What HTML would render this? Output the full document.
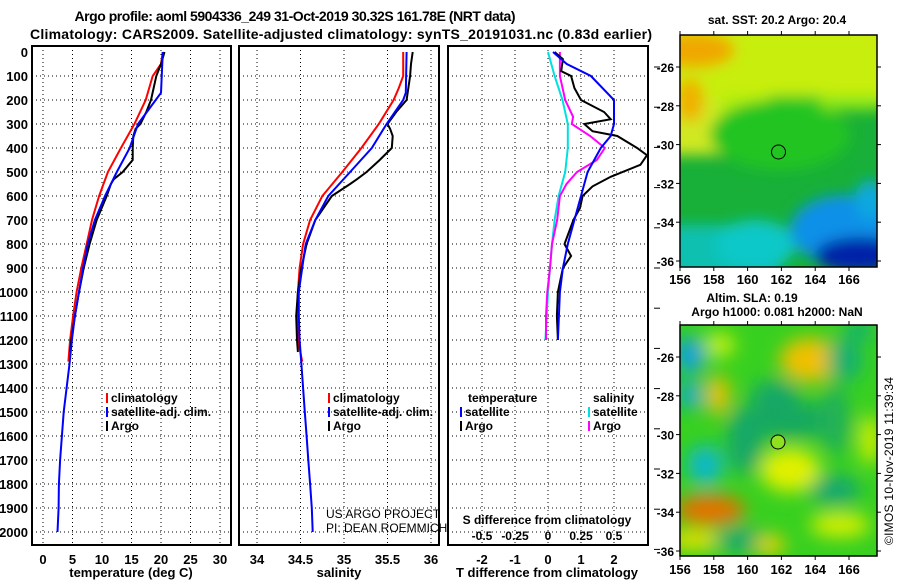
<!DOCTYPE html>
<html><head><meta charset="utf-8"><style>
body{margin:0;background:#fff}
svg{display:block;font-family:"Liberation Sans",sans-serif;font-weight:bold}
</style></head><body>
<svg id="fig" width="900" height="580" viewBox="0 0 900 580" xmlns="http://www.w3.org/2000/svg">
<defs>
<filter id="bl1" x="-20%" y="-20%" width="140%" height="140%"><feGaussianBlur stdDeviation="7"/></filter>
<filter id="bl2" x="-20%" y="-20%" width="140%" height="140%"><feGaussianBlur stdDeviation="9"/></filter>
<clipPath id="cm1"><rect x="680" y="35" width="197" height="232"/></clipPath>
<clipPath id="cm2"><rect x="680" y="325" width="197" height="231"/></clipPath>
<clipPath id="cp1"><rect x="32" y="46" width="199" height="499"/></clipPath>
<clipPath id="cp2"><rect x="239" y="46" width="200" height="499"/></clipPath>
<clipPath id="cp3"><rect x="448" y="46" width="200" height="499"/></clipPath>
</defs>
<text x="295" y="21" text-anchor="middle" font-size="14" textLength="441">Argo profile: aoml 5904336_249 31-Oct-2019 30.32S 161.78E (NRT data)</text>
<text x="341" y="39" text-anchor="middle" font-size="14" textLength="622">Climatology: CARS2009. Satellite-adjusted climatology: synTS_20191031.nc (0.83d earlier)</text>

<g clip-path="url(#cm1)">
<rect x="680" y="35" width="197" height="232" fill="#18b038"/>
<g filter="url(#bl1)">
<rect x="660" y="20" width="240" height="85" fill="#c8ee10"/>
<rect x="660" y="100" width="70" height="55" fill="#d0e820"/>
<rect x="720" y="95" width="50" height="25" fill="#b0ee10"/>
<rect x="770" y="95" width="50" height="20" fill="#40d020"/>
<rect x="820" y="95" width="60" height="15" fill="#90e818"/>
<ellipse cx="695" cy="50" rx="40" ry="18" fill="#f0a800"/>
<ellipse cx="690" cy="100" rx="14" ry="22" fill="#f0b000"/>
<ellipse cx="780" cy="135" rx="70" ry="35" fill="#20c420"/>
<rect x="660" y="225" width="120" height="60" fill="#10c0b0"/>
<ellipse cx="755" cy="245" rx="40" ry="25" fill="#10c8c8"/>
<ellipse cx="845" cy="230" rx="55" ry="35" fill="#1090e8"/>
<ellipse cx="860" cy="255" rx="45" ry="18" fill="#0020a8"/>
<ellipse cx="870" cy="200" rx="15" ry="20" fill="#10a8e0"/>
</g>
</g>
<rect x="680" y="35" width="197" height="232" fill="none" stroke="#000" stroke-width="1.5"/>
<circle cx="778.5" cy="152" r="7" fill="none" stroke="#000" stroke-width="1"/>

<g clip-path="url(#cm2)">
<rect x="680" y="325" width="197" height="231" fill="#38d020"/>
<g filter="url(#bl2)">
<ellipse cx="690" cy="355" rx="15" ry="18" fill="#10a0e0"/>
<ellipse cx="690" cy="395" rx="12" ry="14" fill="#10a8d0"/>
<ellipse cx="705" cy="465" rx="18" ry="20" fill="#10b8c8"/>
<ellipse cx="810" cy="360" rx="30" ry="22" fill="#f0c000"/>
<ellipse cx="790" cy="420" rx="50" ry="18" fill="#18a860"/>
<ellipse cx="845" cy="360" rx="18" ry="22" fill="#18b070"/>
<ellipse cx="860" cy="330" rx="15" ry="10" fill="#18b070"/>
<ellipse cx="745" cy="440" rx="18" ry="35" fill="#18a868"/>
<ellipse cx="775" cy="395" rx="25" ry="15" fill="#18a868"/>
<ellipse cx="835" cy="420" rx="15" ry="35" fill="#20b058"/>
<ellipse cx="710" cy="510" rx="35" ry="15" fill="#e87000"/>
<ellipse cx="695" cy="540" rx="30" ry="10" fill="#e8e000"/>
<ellipse cx="718" cy="395" rx="12" ry="20" fill="#e8c000"/>
<ellipse cx="790" cy="470" rx="30" ry="22" fill="#e0f000"/>
<ellipse cx="835" cy="490" rx="25" ry="15" fill="#18a870"/>
<ellipse cx="840" cy="525" rx="30" ry="12" fill="#d8f000"/>
<ellipse cx="740" cy="540" rx="25" ry="12" fill="#18a870"/>
<ellipse cx="770" cy="545" rx="15" ry="10" fill="#f0d000"/>
<ellipse cx="870" cy="440" rx="10" ry="25" fill="#d8f000"/>
<ellipse cx="720" cy="345" rx="15" ry="12" fill="#c8f010"/>
</g>
</g>
<rect x="680" y="325" width="197" height="231" fill="none" stroke="#000" stroke-width="1.5"/>
<circle cx="778" cy="442" r="7" fill="#8ee020" stroke="#000" stroke-width="1"/>

<text x="777" y="24" text-anchor="middle" font-size="12">sat. SST: 20.2 Argo: 20.4</text>
<text x="752" y="302" text-anchor="middle" font-size="12">Altim. SLA: 0.19</text>
<text x="777" y="316" text-anchor="middle" font-size="12">Argo h1000: 0.081 h2000: NaN</text>
<text transform="translate(893,545) rotate(-90)" font-size="12" font-weight="normal" textLength="168">©IMOS 10-Nov-2019 11:39:34</text>
<g id="dyn"></g>
</svg>
<script>
// ---- data ----
const depthTicks = [0,100,200,300,400,500,600,700,800,900,1000,1100,1200,1300,1400,1500,1600,1700,1800,1900,2000];
const tempTicks = [0,5,10,15,20,25,30];
const salTicks = [34,34.5,35,35.5,36];
const tdiffTicks = [-2,-1,0,1,2];
const sdiffTicks = ["-0.5","-0.25","0","0.25","0.5"];
const sdiffVals = [-0.5,-0.25,0,0.25,0.5];
const lonTicks = [156,158,160,162,164,166];
const latTicks = [-26,-28,-30,-32,-34,-36];

const climDepth = [0,50,100,150,200,300,400,500,600,700,800,900,1000,1100,1200,1290];
const climTemp  = [20.3,20.0,18.6,18.0,17.4,15.5,13.2,11.0,9.5,8.3,7.4,6.5,5.7,5.1,4.6,4.3];
const climSal   = [35.68,35.68,35.68,35.63,35.57,35.40,35.2,34.98,34.75,34.61,34.53,34.49,34.47,34.46,34.47,34.52];

const satDepth = [0,170,200,300,400,500,600,700,800,900,1000,1100,1200,1300,1400,1500,1600,1700,1800,1900,2000];
const satTemp  = [20.3,20.0,19.1,16.1,14.7,12.5,10.5,8.8,7.6,6.8,6.1,5.4,4.9,4.5,4.0,3.5,3.2,2.9,2.7,2.65,2.45];
const satSal   = [35.72,35.71,35.68,35.49,35.32,35.07,34.82,34.67,34.56,34.52,34.48,34.48,34.49,34.51,34.53,34.55,34.57,34.59,34.61,34.63,34.64];

const argoDepth = [0,50,100,200,250,300,320,350,400,450,500,530,550,600,700,800,900,1000,1100,1200,1250];
const argoTemp  = [20.6,20.0,19.2,18.3,17.5,16.5,15.7,15.3,15.2,15.2,13.5,12.0,11.5,10.8,9.1,7.9,6.9,6.1,5.4,4.8,4.6];
const argoSal   = [35.79,35.77,35.76,35.72,35.60,35.50,35.53,35.56,35.55,35.41,35.26,35.15,35.07,34.86,34.67,34.57,34.51,34.47,34.45,34.46,34.47];

const tdSatDepth = [0,50,100,200,300,350,400,500,600,700,800,900,1000,1100,1200];
const tdSat      = [0.15,0.57,1.3,2.0,2.0,1.9,1.6,1.2,1.0,0.8,0.6,0.45,0.36,0.33,0.3];
const tdArgoDepth = [0,30,80,100,150,200,250,280,300,330,350,400,430,470,520,560,600,650,700,800,850,900,1000,1100,1200];
const tdArgo      = [0.2,0.45,0.4,0.7,0.8,1.0,1.7,1.9,1.1,1.35,2.1,2.7,3.0,2.8,1.9,1.35,1.05,0.97,0.77,0.5,0.7,0.45,0.3,0.27,0.3];
const sdDepth = [0,100,200,300,400,500,600,700,800,900,1000,1100,1200];
const sdSat   = [0.0,0.05,0.11,0.15,0.15,0.13,0.08,0.05,0.03,0.015,0.0,-0.01,-0.02];
const sdArgoDepth = [0,100,200,270,300,350,400,450,500,550,600,700,800,900,1000,1100,1200];
const sdArgo      = [0.09,0.09,0.13,0.19,0.18,0.32,0.43,0.37,0.22,0.14,0.09,0.07,0.03,0.015,-0.005,-0.015,-0.015];

// ---- scales ----
const yD = d => 52 + d*0.24;
const xT = t => 43 + t*5.9;
const xS = s => 257 + (s-34)*87;
const xTd = t => 548 + t*33;
const xSd = s => 548 + s*132;
const xLon = l => 680 + (l-156)*16.9;
const yLat1 = l => 67 + (-26-l)*19.4;
const yLat2 = l => 357 + (-26-l)*19.4;

const NS="http://www.w3.org/2000/svg";
const root=document.getElementById('dyn');
function mk(tag,attrs,parent){const e=document.createElementNS(NS,tag);for(const k in attrs)e.setAttribute(k,attrs[k]);(parent||root).appendChild(e);return e;}

function panel(x0,x1,name){
  const g=mk('g',{});
  
  
  depthTicks.forEach(d=>{ if(d>0){const l=mk('line',{x1:x0,x2:x1,y1:yD(d),y2:yD(d),stroke:'#000','stroke-width':1,'stroke-dasharray':'1,3'},g);
    
    }});
  return g;
}
function frame(x0,x1,name){
  const r=mk('rect',{x:x0,y:46,width:x1-x0,height:499,fill:'none',stroke:'#000','stroke-width':2});
  
  
}
function line(xs,ds,xf,color,name,clip,w){
  const pts=xs.map((v,i)=>xf(v).toFixed(1)+','+yD(ds[i]).toFixed(1)).join(' ');
  const p=mk('polyline',{points:pts,fill:'none',stroke:color,'stroke-width':w||2,'clip-path':'url(#'+clip+')'});
  
  
}
function txt(x,y,s,anchor,size,name,weight){
  const t=mk('text',{x:x,y:y,'text-anchor':anchor,'font-size':size||13});
  if(weight)t.setAttribute('font-weight',weight);
  t.textContent=s;
  
  
  return t;
}
function vgrid(g,x){const l=mk('line',{x1:x,x2:x,y1:46,y2:545,stroke:'#000','stroke-width':1,'stroke-dasharray':'1,3'},g);
  
  }

// panel 1
const g1=panel(32,231,'temperature-panel');
tempTicks.forEach(t=>{vgrid(g1,xT(t)); txt(xT(t),564,String(t),'middle',13,'temp-tick-label');});
depthTicks.forEach(d=>txt(28,yD(d)+5,String(d),'end',13,'depth-tick-label'));
line(climTemp,climDepth,xT,'#ff0000','temp-climatology-line','cp1');
line(argoTemp,argoDepth,xT,'#000000','temp-argo-line','cp1');
line(satTemp,satDepth,xT,'#0000ff','temp-satellite-line','cp1');
frame(32,231,'temperature-panel-frame');
txt(131,577,'temperature (deg C)','middle',13,'temperature-axis-title');
// panel 2
const g2=panel(239,439,'salinity-panel');
salTicks.forEach(s=>{vgrid(g2,xS(s)); txt(xS(s),564,String(s),'middle',13,'salinity-tick-label');});
line(climSal,climDepth,xS,'#ff0000','sal-climatology-line','cp2');
line(argoSal,argoDepth,xS,'#000000','sal-argo-line','cp2');
line(satSal,satDepth,xS,'#0000ff','sal-satellite-line','cp2');
frame(239,439,'salinity-panel-frame');
txt(339,577,'salinity','middle',13,'salinity-axis-title');
txt(326,518,'US ARGO PROJECT','start',12,'credit-line-1','normal');
txt(326,532,'PI: DEAN ROEMMICH','start',12,'credit-line-2','normal');
function legend(x){
  const items=[['#ff0000','climatology'],['#0000ff','satellite-adj. clim.'],['#000','Argo']];
  items.forEach((it,i)=>{const y=402+i*14;
    const r=mk('rect',{x:x,y:y-9,width:2,height:10,fill:it[0]});
    
    
    txt(x+5,y,it[1],'start',12,'legend-entry');});
}
legend(106); legend(328);
// panel 3
const g3=panel(448,648,'difference-panel');
tdiffTicks.forEach(t=>{vgrid(g3,xTd(t)); txt(xTd(t),564,String(t),'middle',13,'tdiff-tick-label');});
sdiffVals.forEach((s,i)=>txt(xSd(s),540,sdiffTicks[i],'middle',12,'sdiff-tick-label'));
line(sdSat,sdDepth,xSd,'#00e0e0','sdiff-satellite-line','cp3');
line(sdArgo,sdArgoDepth,xSd,'#ff00ff','sdiff-argo-line','cp3');
line(tdArgo,tdArgoDepth,xTd,'#000000','tdiff-argo-line','cp3');
line(tdSat,tdSatDepth,xTd,'#0000ff','tdiff-satellite-line','cp3');
frame(448,648,'difference-panel-frame');
txt(547,524,'S difference from climatology','middle',12,'sdiff-axis-title');
txt(547,577,'T difference from climatology','middle',13,'tdiff-axis-title');
txt(468,402,'temperature','start',12,'legend-temp-heading');
txt(593,402,'salinity','start',12,'legend-sal-heading');
[['#0000ff','satellite',460],['#000','Argo',460],['#00e0e0','satellite',588],['#ff00ff','Argo',588]].forEach((it,i)=>{
  const y=416+(i%2)*14;
  const r=mk('rect',{x:it[2],y:y-9,width:2,height:10,fill:it[0]});
  
  
  txt(it[2]+5,y,it[1],'start',12,'legend-entry');
});
for(let k=0;k<13;k++){const y=67+k*40.2; const l=mk('line',{x1:654,x2:660,y1:y,y2:y,stroke:'#000','stroke-width':1});
  
  }
function mapAxes(yLat,top,bottom,labY,pre){
  lonTicks.forEach(l=>{const x=xLon(l);
    [[top,top-4],[bottom,bottom+4]].forEach(p=>{const t=mk('line',{x1:x,x2:x,y1:p[0],y2:p[1],stroke:'#000'});
      
      });
    txt(x,labY,String(l),'middle',13,pre+'-lon-label');});
  latTicks.forEach(l=>{const y=yLat(l);
    [[680,676],[877,881]].forEach(p=>{const t=mk('line',{x1:p[0],x2:p[1],y1:y,y2:y,stroke:'#000'});
      
      });
    txt(674,y+5,String(l),'end',12,pre+'-lat-label');});
}
mapAxes(yLat1,35,267,284,'sst-map');
mapAxes(yLat2,325,556,574,'sla-map');
</script>
</body></html>
